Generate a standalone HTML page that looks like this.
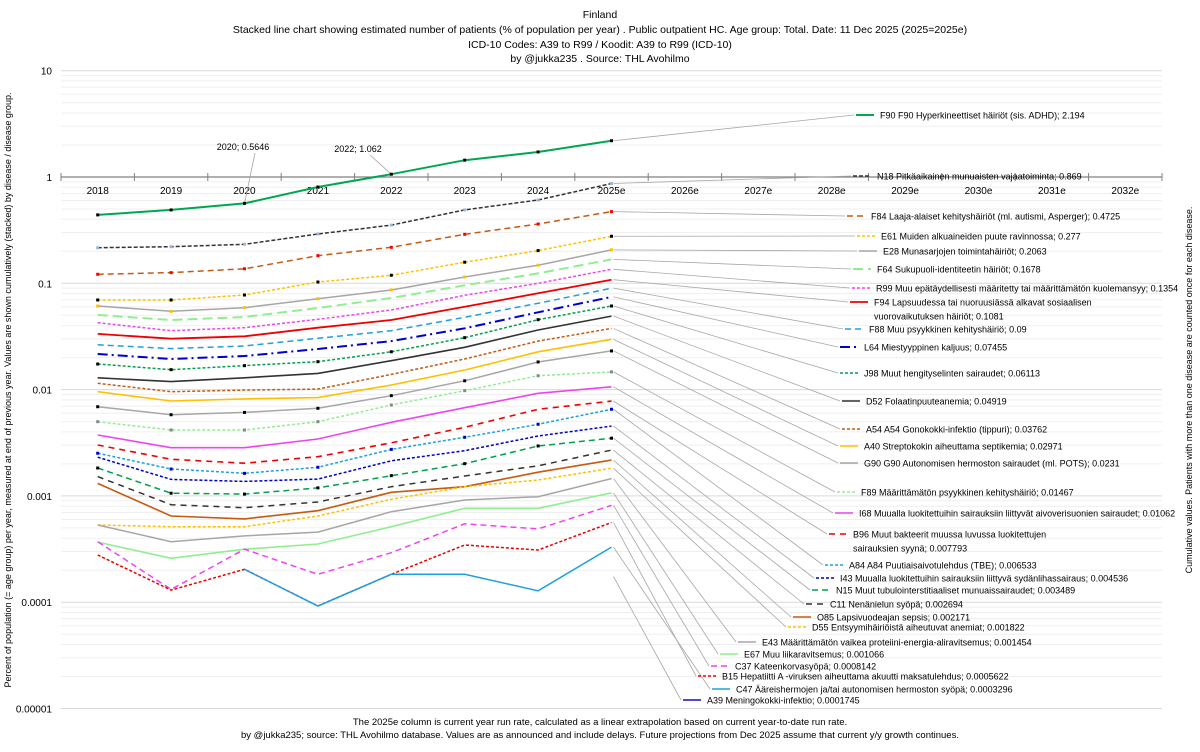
<!DOCTYPE html>
<html><head><meta charset="utf-8"><style>
body{margin:0;background:#fff;width:1200px;height:747px;overflow:hidden;font-family:"Liberation Sans",sans-serif}
svg text{font-family:"Liberation Sans",sans-serif}
</style></head><body>
<svg id="c" width="1200" height="747" xmlns="http://www.w3.org/2000/svg">
<g font-size="10.5" text-anchor="middle" fill="#000">
<text x="600" y="18">Finland</text>
<text x="600" y="33">Stacked line chart showing estimated number of patients  (% of population per year) . Public outpatient HC. Age group: Total. Date: 11 Dec 2025 (2025=2025e)</text>
<text x="600" y="48">ICD-10 Codes: A39 to R99 / Koodit: A39 to R99 (ICD-10)</text>
<text x="600" y="62">by @jukka235 . Source: THL Avohilmo</text>
</g>
<text font-size="9" transform="translate(11,390) rotate(-90)" text-anchor="middle">Percent of population (= age group) per year, measured at end of previous year. Values are shown cumulatively (stacked) by disease / disease group.</text>
<text font-size="9" transform="translate(1192,390) rotate(-90)" text-anchor="middle">Cumulative values. Patients with more than one disease are counted once for each disease.</text>
<g font-size="9.5" text-anchor="middle">
<text x="600" y="725">The 2025e column is current year run rate, calculated as a linear extrapolation based on current year-to-date run rate.</text>
<text x="600" y="738">by @jukka235; source: THL Avohilmo database. Values are as announced and include delays. Future projections from Dec 2025 assume that current y/y growth continues.</text>
</g>
<g id="grid"></g><g id="axes"></g><g id="leaders"></g><g id="series"></g><g id="legend"></g>
</svg>
<script>
const years=["2018","2019","2020","2021","2022","2023","2024","2025e","2026e","2027e","2028e","2029e","2030e","2031e","2032e"];
const yTicks=[10,1,0.1,0.01,0.001,0.0001,0.00001];
const yTickLabels=["10","1","0.1","0.01","0.001","0.0001","0.00001"];
const names=["F90 F90 Hyperkineettiset häiriöt (sis. ADHD); 2.194","N18 Pitkäaikainen munuaisten vajaatoiminta; 0.869","F84 Laaja-alaiset kehityshäiriöt (ml. autismi, Asperger); 0.4725","E61 Muiden alkuaineiden puute ravinnossa; 0.277","E28 Munasarjojen toimintahäiriöt; 0.2063","F64 Sukupuoli-identiteetin häiriöt; 0.1678","R99 Muu epätäydellisesti määritetty tai määrittämätön kuolemansyy; 0.1354","F94 Lapsuudessa tai nuoruusiässä alkavat sosiaalisen|vuorovaikutuksen häiriöt; 0.1081","F88 Muu psyykkinen kehityshäiriö; 0.09","L64 Miestyyppinen kaljuus; 0.07455","J98 Muut hengityselinten sairaudet; 0.06113","D52 Folaatinpuuteanemia; 0.04919","A54 A54 Gonokokki-infektio (tippuri); 0.03762","A40 Streptokokin aiheuttama septikemia; 0.02971","G90 G90 Autonomisen hermoston sairaudet (ml. POTS); 0.0231","F89 Määrittämätön psyykkinen kehityshäiriö; 0.01467","I68 Muualla luokitettuihin sairauksiin liittyvät aivoverisuonien sairaudet; 0.01062","B96 Muut bakteerit muussa luvussa luokitettujen|sairauksien syynä; 0.007793","A84 A84 Puutiaisaivotulehdus (TBE); 0.006533","I43 Muualla luokitettuihin sairauksiin liittyvä sydänlihassairaus; 0.004536","N15 Muut tubulointerstitiaaliset munuaissairaudet; 0.003489","C11 Nenänielun syöpä; 0.002694","O85 Lapsivuodeajan sepsis; 0.002171","D55 Entsyymihäiriöistä aiheutuvat anemiat; 0.001822","E43 Määrittämätön vaikea proteiini-energia-aliravitsemus; 0.001454","E67 Muu liikaravitsemus; 0.001066","C37 Kateenkorvasyöpä; 0.0008142","B15 Hepatiitti A -viruksen aiheuttama akuutti maksatulehdus; 0.0005622","C47 Ääreishermojen ja/tai autonomisen hermoston syöpä; 0.0003296","A39 Meningokokki-infektio; 0.0001745"];
const vF90=[0.44,0.49,0.5646,0.805,1.062,1.44,1.72,2.194];
const vN18=[0.216,0.221,0.233,0.291,0.353,0.49,0.608,0.869];
const vF84=[0.1216,0.126,0.137,0.182,0.218,0.289,0.361,0.4725];
const vE61=[0.0697,0.0697,0.0776,0.1028,0.119,0.158,0.203,0.277];
const vE28=[0.0611,0.0545,0.059,0.0716,0.0865,0.1146,0.148,0.2063];
const vF64=[0.0503,0.0452,0.0482,0.0586,0.0727,0.0958,0.124,0.1678];
const vR99=[0.0426,0.0358,0.0382,0.0458,0.0561,0.0771,0.100,0.1354];
const vF94=[0.0334,0.0301,0.0317,0.0382,0.0452,0.0603,0.0805,0.1081];
const vF88=[0.0264,0.0243,0.0257,0.0304,0.0358,0.0479,0.0648,0.09];
const vL64=[0.0216,0.0194,0.0207,0.0241,0.0286,0.0377,0.0533,0.07455];
const vJ98=[0.0174,0.0154,0.0168,0.0183,0.0227,0.0308,0.0455,0.06113];
const vD52=[0.0129,0.0119,0.0129,0.0142,0.0187,0.025,0.0364,0.04919];
const vA54=[0.01146,0.00955,0.0099,0.0101,0.0139,0.0194,0.0286,0.03762];
const vA40=[0.00955,0.00781,0.00817,0.0084,0.01105,0.0153,0.0227,0.02971];
const vG90=[0.0069,0.0058,0.0061,0.00667,0.00877,0.0121,0.0182,0.0231];
const vF89=[0.00499,0.00417,0.00417,0.00499,0.00716,0.00977,0.0135,0.01467];
const vI68=[0.00374,0.00284,0.00284,0.00343,0.00492,0.00676,0.00923,0.01062];
const vB96=[0.00301,0.00221,0.00203,0.00234,0.00316,0.00442,0.00653,0.007793];
const vA84=[0.00252,0.00179,0.00163,0.00186,0.00274,0.00356,0.00472,0.006533];
const vI43=[0.00231,0.00143,0.00137,0.00144,0.00214,0.00266,0.00366,0.004536];
const vN15=[0.00183,0.00106,0.00104,0.00119,0.00155,0.00201,0.00295,0.003489];
const vC11=[0.00152,0.000826,0.000774,0.000877,0.00122,0.00154,0.00192,0.002694];
const vO85=[0.00131,0.000647,0.000607,0.000726,0.00108,0.00122,0.00167,0.002171];
const vD55=[0.000532,0.000513,0.000513,0.000647,0.000929,0.00122,0.00141,0.001822];
const vE43=[0.000532,0.000371,0.00042,0.000457,0.00071,0.000915,0.000982,0.001454];
const vE67=[0.000368,0.000259,0.000315,0.000353,0.000513,0.000764,0.000764,0.001066];
const vC37=[0.000371,0.000132,0.000315,0.000183,0.000292,0.000547,0.000489,0.0008142];
const vB15=[0.000278,0.00013,0.000204,0.000092,0.000183,0.000345,0.00031,0.0005622];
const vC47=[null,null,0.000204,0.000092,0.000183,0.000183,0.000128,0.0003296];
const vA39=[null,null,null,null,null,null,null,0.0001745];
const annLabels=[["2020; 0.5646",2,0.5646,243,150],["2022; 1.062",4,1.062,358,152]];
</script>
<script>
const NS="http://www.w3.org/2000/svg";
const X0=61,CW=73.4,Y1=177,DEC=106.3;
function xs(i){return X0+CW*(i+0.5);}
function ys(v){return Y1-Math.log10(v)*DEC;}
function mk(tag,attrs,parent){const e=document.createElementNS(NS,tag);for(const k in attrs)e.setAttribute(k,attrs[k]);parent.appendChild(e);return e;}
const grid=document.getElementById('grid'),axes=document.getElementById('axes'),ser=document.getElementById('series'),leg=document.getElementById('legend'),lead=document.getElementById('leaders');
for(let d=-5;d<1;d++){for(let m=1;m<10;m++){const v=m*Math.pow(10,d);const y=ys(v);
 const g=mk('line',{x1:X0,x2:1162,y1:y,y2:y,stroke:m==1?'#d9d9d9':'#efefef','stroke-width':1},grid);
 
 }}
const gt=mk('line',{x1:X0,x2:1162,y1:ys(10),y2:ys(10),stroke:'#d9d9d9'},grid);


yTicks.forEach((v,i)=>{const t=mk('text',{x:52,y:ys(v)+4,'font-size':10,'text-anchor':'end'},axes);t.textContent=yTickLabels[i];
 
 });
const ax=mk('line',{x1:X0,x2:1162,y1:Y1,y2:Y1,stroke:'#808080','stroke-width':1.2},axes);


for(let i=0;i<=years.length;i++){const tk=mk('line',{x1:X0+CW*i,x2:X0+CW*i,y1:Y1-4,y2:Y1+4,stroke:'#808080'},axes);
 
 }
years.forEach((yv,i)=>{const t=mk('text',{x:xs(i),y:Y1+17,'font-size':10,'text-anchor':'middle'},axes);t.textContent=yv;
 
 });
const data=[vF90,vN18,vF84,vE61,vE28,vF64,vR99,vF94,vF88,vL64,vJ98,vD52,vA54,vA40,vG90,vF89,vI68,vB96,vA84,vI43,vN15,vC11,vO85,vD55,vE43,vE67,vC37,vB15,vC47,vA39];
const styles=[["#00a651","",2,"#000"],["#333","4 2",1.5,"#9cb6d6"],["#c55a11","6 4",1.5,"#ff0000"],["#ffc000","3 2",1.5,"#000"],["#a6a6a6","",1.5,"#ffc000"],["#90ee90","10 5",2,""],["#ee44ee","3 2",1.5,""],["#ee0000","",1.8,""],["#1ea0e0","6 4",1.5,""],["#0000cc","10 4 2 4",2,""],["#00a050","3 2",1.5,"#000"],["#333","",1.6,""],["#c55a11","3 2",1.5,""],["#ffc000","",1.6,""],["#a6a6a6","",1.5,"#000"],["#90ee90","3 2",1.5,"#888"],["#ee44ee","",1.6,""],["#ee0000","6 5",1.6,""],["#1ea0e0","3 2",1.5,"#0000cc"],["#0000cc","3 2",1.5,""],["#00a050","6 4",1.5,"#000"],["#333","6 5",1.5,""],["#c55a11","",1.6,""],["#ffc000","3 2",1.5,""],["#a6a6a6","",1.5,""],["#90ee90","",1.6,""],["#ee44ee","6 4",1.5,""],["#ee0000","3 2",1.5,""],["#1ea0e0","",1.5,""],["#3333cc","",1.8,""]];
const legY=[115,176,216,236,251,269,288,302,329,347,373,401,429,446,463,492,513,534,565,578,590,604,617,627,642,654,666,676,689,700];
const legX=[856,853,847,857,859,853,852,850,845,840,840,842,842,840,840,837,835,829,825,816,812,806,793,788,738,720,711,698,712,683];
data.forEach((vals,si)=>{const st=styles[si];let d="";let last=null;
 vals.forEach((v,i)=>{if(v==null)return;d+=(d?"L":"M")+xs(i).toFixed(1)+","+ys(v).toFixed(1);last=i;});
 const p=mk('path',{d:d,fill:'none',stroke:st[0],'stroke-width':st[2],'stroke-dasharray':st[1]},ser);
 
 
 if(st[3]){vals.forEach((v,i)=>{if(v==null)return;const c=mk('rect',{x:xs(i)-1.5,y:ys(v)-1.5,width:3,height:3,fill:st[3]},ser);
  
  });}
 const ly=legY[si],lx=legX[si];
 const ll=mk('line',{x1:xs(last)+2,y1:ys(vals[last]),x2:lx-2,y2:ly,stroke:'#a6a6a6','stroke-width':0.8},lead);
 
 
 const m=mk('line',{x1:lx,x2:lx+18,y1:ly,y2:ly,stroke:st[0],'stroke-width':st[2],'stroke-dasharray':st[1]},leg);
 
 
 const parts=names[si].split('|');
 parts.forEach((ptxt,k)=>{const t=mk('text',{x:lx+24,y:ly+3.5+k*14,'font-size':9},leg);t.textContent=ptxt;
  
  });
});
annLabels.forEach(a=>{const px=xs(a[1]),py=ys(a[2]);
 const l=mk('line',{x1:px,y1:py,x2:a[3]+12,y2:a[4]+3,stroke:'#a6a6a6','stroke-width':0.8},lead);
 
 
 const t=mk('text',{x:a[3],y:a[4],'font-size':9,'text-anchor':'middle'},leg);t.textContent=a[0];
 
 });
</script>
</body></html>
